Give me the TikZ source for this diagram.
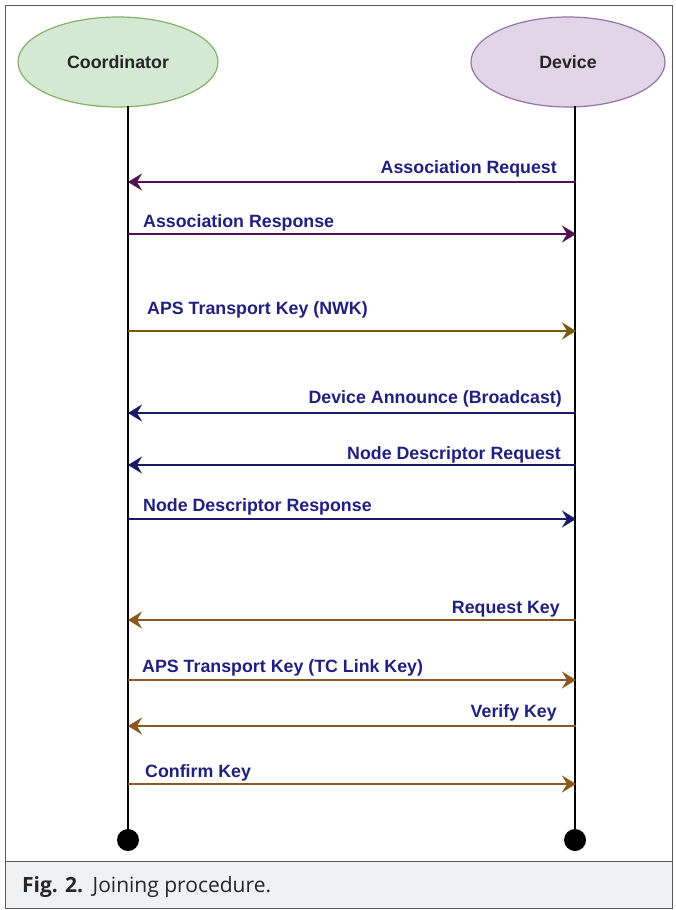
\documentclass[tikz,border=0pt]{standalone}
\usepackage{fontspec}
\setmainfont{Liberation Sans}
\newfontfamily\capfont{Open Sans}
\usetikzlibrary{arrows.meta,shapes.geometric}

\definecolor{txtblue}{RGB}{32,32,128}
\definecolor{mpurple}{RGB}{82,16,78}
\definecolor{molive}{RGB}{118,90,20}
\definecolor{mnavy}{RGB}{25,25,100}
\definecolor{mbrown}{RGB}{138,88,32}
\definecolor{gfill}{HTML}{D5E8D4}
\definecolor{gline}{HTML}{82B366}
\definecolor{pfill}{HTML}{E1D5E7}
\definecolor{pline}{HTML}{9673A6}
\definecolor{capbg}{RGB}{240,241,243}
\definecolor{framecol}{RGB}{90,90,90}

\tikzset{
  actor/.style={ellipse, draw, line width=1.2pt, minimum width=#1, minimum height=90pt,
                inner sep=0pt, font=\fontsize{17.8}{20}\selectfont\bfseries, text=black!85},
  lifeline/.style={draw=black, line width=1.3pt},
  endpt/.style={circle, fill=black, minimum size=22pt, inner sep=0pt},
  msg/.style={line width=2.6pt, -{Stealth[length=14pt,width=17pt,inset=5pt]}},
  lblR/.style={anchor=base east, inner sep=0pt, text=txtblue,
               font=\fontsize{17.8}{20}\selectfont\bfseries},
  lblL/.style={anchor=base west, inner sep=0pt, text=txtblue,
               font=\fontsize{17.8}{20}\selectfont\bfseries},
}

\begin{document}
\begin{tikzpicture}[x=1pt,y=-1pt]
\useasboundingbox (0,0) rectangle (675,910);

% outer frame and caption band
\fill[white] (5,5) rectangle (672,908);
\fill[capbg] (5,861) rectangle (672,908);
\draw[framecol, line width=1pt] (5,861) -- (672,861);
\draw[framecol, line width=1pt] (5,5) rectangle (672,908);

% participants
\node[actor=200pt, fill=gfill, draw=gline] (coord) at (118,62) {Coordinator};
\node[actor=194pt, fill=pfill, draw=pline] (dev) at (568,62) {Device};

% lifelines
\coordinate (ctop) at (128,106);
\coordinate (dtop) at (575,106);
\node[endpt] (cend) at (128,840) {};
\node[endpt] (dend) at (575,840) {};
\draw[lifeline] (ctop) -- (cend.center);
\draw[lifeline] (dtop) -- (dend.center);

% message anchor points on the two lifelines
\foreach \i/\y in {1/182,2/234,3/331,4/413,5/465,6/519,7/620,8/680,9/726,10/784}{
  \coordinate (c\i) at (128,\y);
  \coordinate (d\i) at (576,\y);
}

% messages
\draw[msg, mpurple] (d1) -- (c1);
\node[lblR] (l1) at (557,173) {Association Request};
\draw[msg, mpurple] (c2) -- (d2);
\node[lblL] (l2) at (143,227) {Association Response};

\draw[msg, molive] (c3) -- (d3);
\node[lblL] (l3) at (147,314) {APS Transport Key (NWK)};

\draw[msg, mnavy] (d4) -- (c4);
\node[lblR] (l4) at (562,403) {Device Announce (Broadcast)};
\draw[msg, mnavy] (d5) -- (c5);
\node[lblR] (l5) at (561,459) {Node Descriptor Request};
\draw[msg, mnavy] (c6) -- (d6);
\node[lblL] (l6) at (143,511) {Node Descriptor Response};

\draw[msg, mbrown] (d7) -- (c7);
\node[lblR] (l7) at (560,613) {Request Key};
\draw[msg, mbrown] (c8) -- (d8);
\node[lblL] (l8) at (142,672) {APS Transport Key (TC Link Key)};
\draw[msg, mbrown] (d9) -- (c9);
\node[lblR] (l9) at (557,717) {Verify Key};
\draw[msg, mbrown] (c10) -- (d10);
\node[lblL] (l10) at (145,777) {Confirm Key};

% caption
\node[anchor=base west, inner sep=0pt, font=\capfont\fontsize{21}{24}\selectfont, text=black!85]
  (cap) at (22,892) {\textbf{Fig. 2.}\hspace{0.45em}Joining procedure.};
\end{tikzpicture}
\end{document}
